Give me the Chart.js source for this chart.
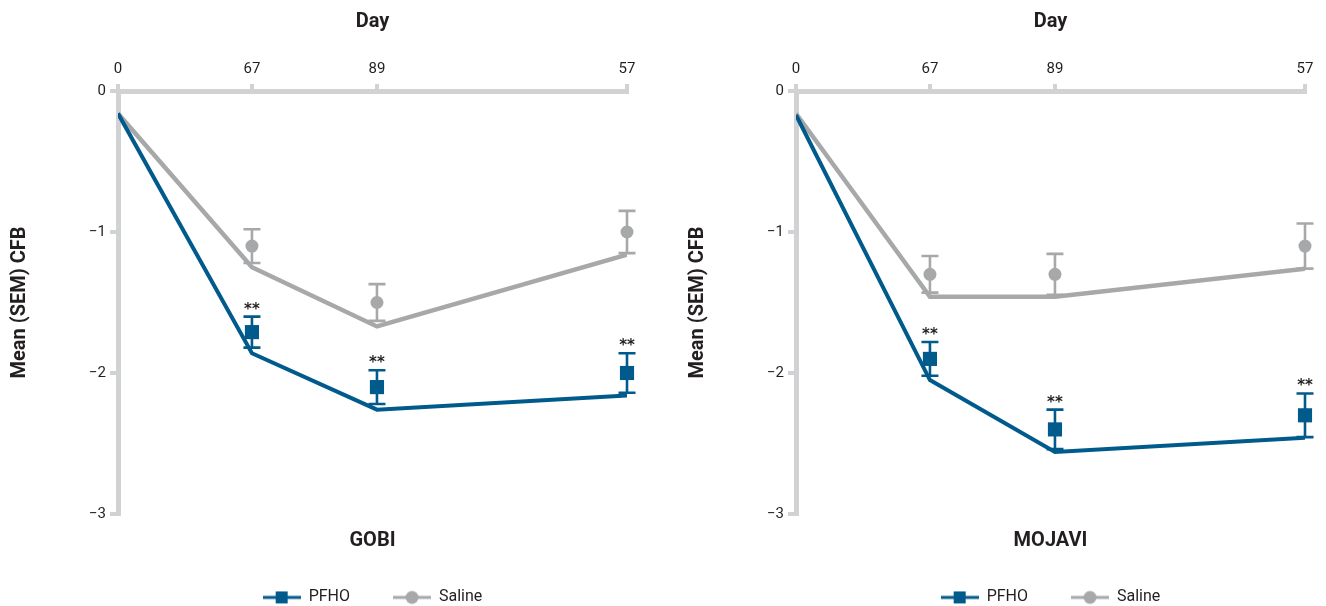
<!DOCTYPE html>
<html>
<head>
<meta charset="utf-8">
<script src="https://cdn.jsdelivr.net/npm/chart.js@4.4.0/dist/chart.umd.min.js"></script>
<style>
    html, body { margin: 0; padding: 0; background: #fff; }
    .panel { position: absolute; top: 0; width: 648px; height: 606px; }
    #gobiPanel { left: 0; }
    #mojaviPanel { left: 678px; }
</style>
</head>
<body>
<div class="panel" id="gobiPanel"><canvas id="gobiChart"></canvas></div>
<div class="panel" id="mojaviPanel"><canvas id="mojaviChart"></canvas></div>
<script>
// x positions of the visits and the labels printed on the Day axis
const dayPos = [0, 15, 29, 57];
const dayLabels = ['0', '67', '89', '57'];
const visitPos = [15, 29, 57];
const yTicks = [0, -1, -2, -3];

// GOBI
const gobiPfhoFit = [-0.16, -1.86, -2.26, -2.16];
const gobiSalineFit = [-0.16, -1.25, -1.67, -1.16];
const gobiPfhoMean = [-1.71, -2.10, -2.00];
const gobiPfhoSem = [0.11, 0.12, 0.14];
const gobiSalineMean = [-1.10, -1.50, -1.00];
const gobiSalineSem = [0.12, 0.13, 0.15];

// MOJAVI
const mojaviPfhoFit = [-0.17, -2.05, -2.56, -2.46];
const mojaviSalineFit = [-0.16, -1.46, -1.46, -1.26];
const mojaviPfhoMean = [-1.90, -2.40, -2.30];
const mojaviPfhoSem = [0.12, 0.14, 0.155];
const mojaviSalineMean = [-1.30, -1.30, -1.10];
const mojaviSalineSem = [0.13, 0.145, 0.16];

const BLUE = '#005a8c';
const GREY = '#a7a8aa';
const AXIS = '#d1d2d4';
const TEXT = '#231f20';
const FONT = 'Roboto';

function legendIcon(color, shape) {
    const c = document.createElement('canvas');
    c.width = 38;
    c.height = 16;
    const g = c.getContext('2d');
    g.strokeStyle = color;
    g.lineWidth = 3;
    g.beginPath();
    g.moveTo(0, 8);
    g.lineTo(38, 8);
    g.stroke();
    g.fillStyle = color;
    if (shape === 'rect') {
        g.fillRect(13, 2, 12, 12);
    } else {
        g.beginPath();
        g.arc(19, 8, 6.5, 0, Math.PI * 2);
        g.fill();
    }
    return c;
}

function toPoints(xs, ys) {
    return xs.map((x, i) => ({ x: x, y: ys[i] }));
}

function makePanel(canvasId, name, pfhoFit, salineFit, pfhoMean, pfhoSem, salineMean, salineSem) {
    const groups = [
        { mean: salineMean, sem: salineSem, color: GREY, stars: false },
        { mean: pfhoMean, sem: pfhoSem, color: BLUE, stars: true }
    ];

    // error bars behind the markers, ** above the PFHO bars
    const errorBars = {
        id: 'errorBars',
        beforeDatasetsDraw(chart) {
            const ctx = chart.ctx;
            const xs = chart.scales.x, ys = chart.scales.y;
            groups.forEach(grp => {
                ctx.save();
                ctx.strokeStyle = grp.color;
                ctx.lineWidth = 2.6;
                grp.mean.forEach((m, i) => {
                    const px = xs.getPixelForValue(visitPos[i]);
                    const top = ys.getPixelForValue(m + grp.sem[i]);
                    const bot = ys.getPixelForValue(m - grp.sem[i]);
                    ctx.beginPath();
                    ctx.moveTo(px, top); ctx.lineTo(px, bot);
                    ctx.moveTo(px - 8.5, top); ctx.lineTo(px + 8.5, top);
                    ctx.moveTo(px - 8.5, bot); ctx.lineTo(px + 8.5, bot);
                    ctx.stroke();
                });
                ctx.restore();
            });
        },
        afterDatasetsDraw(chart) {
            const ctx = chart.ctx;
            const xs = chart.scales.x, ys = chart.scales.y;
            groups.filter(g => g.stars).forEach(grp => {
                ctx.save();
                ctx.fillStyle = TEXT;
                ctx.font = 'bold 15px "DejaVu Sans"';
                ctx.textAlign = 'center';
                ctx.textBaseline = 'alphabetic';
                grp.mean.forEach((m, i) => {
                    const px = xs.getPixelForValue(visitPos[i]);
                    const top = ys.getPixelForValue(m + grp.sem[i]);
                    ctx.fillText('**', px, top - 3);
                });
                ctx.restore();
            });
        }
    };

    new Chart(document.getElementById(canvasId), {
        type: 'line',
        data: {
            datasets: [
                {
                    label: 'PFHO',
                    data: toPoints(dayPos, pfhoFit),
                    borderColor: BLUE,
                    borderWidth: 4,
                    pointRadius: 0,
                    pointHitRadius: 0,
                    pointStyle: legendIcon(BLUE, 'rect'),
                    order: 2
                },
                {
                    label: 'Saline',
                    data: toPoints(dayPos, salineFit),
                    borderColor: GREY,
                    borderWidth: 4.5,
                    pointRadius: 0,
                    pointHitRadius: 0,
                    pointStyle: legendIcon(GREY, 'circle'),
                    order: 3
                },
                {
                    label: 'PFHO mean',
                    data: toPoints(visitPos, pfhoMean),
                    showLine: false,
                    pointStyle: 'rect',
                    pointRadius: 10,
                    backgroundColor: BLUE,
                    borderWidth: 0,
                    clip: false,
                    order: 0
                },
                {
                    label: 'Saline mean',
                    data: toPoints(visitPos, salineMean),
                    showLine: false,
                    pointStyle: 'circle',
                    pointRadius: 6.5,
                    backgroundColor: GREY,
                    borderWidth: 0,
                    clip: false,
                    order: 1
                }
            ]
        },
        options: {
            responsive: true,
            maintainAspectRatio: false,
            animation: false,
            layout: { padding: { left: 0, right: 21, top: 0, bottom: 0 } },
            scales: {
                x: {
                    type: 'linear',
                    position: 'top',
                    min: 0,
                    max: 57,
                    afterBuildTicks: s => { s.ticks = dayPos.map(v => ({ value: v })); },
                    afterFit: s => { s.height = 91; },
                    ticks: {
                        callback: (v, i) => dayLabels[i],
                        color: TEXT,
                        font: { family: FONT, size: 15 },
                        padding: 6,
                        maxRotation: 0,
                        autoSkip: false
                    },
                    grid: { drawOnChartArea: false, color: AXIS, lineWidth: 4, tickLength: 7 },
                    border: { color: AXIS, width: 5 },
                    title: {
                        display: true,
                        text: 'Day',
                        color: TEXT,
                        font: { family: FONT, size: 20, weight: 'bold' },
                        padding: { top: 10, bottom: 0 }
                    }
                },
                y: {
                    min: -3,
                    max: 0,
                    afterBuildTicks: s => { s.ticks = yTicks.map(v => ({ value: v })); },
                    afterFit: s => { s.width = 118; },
                    ticks: {
                        callback: v => String(v).replace('-', '\u2212'),
                        color: TEXT,
                        font: { family: FONT, size: 15 },
                        padding: 4
                    },
                    grid: { drawOnChartArea: false, color: AXIS, lineWidth: 4, tickLength: 8 },
                    border: { color: AXIS, width: 5 },
                    title: {
                        display: true,
                        text: 'Mean (SEM) CFB',
                        color: TEXT,
                        font: { family: FONT, size: 20, weight: 'bold' },
                        padding: { top: 8, bottom: 0 }
                    }
                }
            },
            plugins: {
                title: {
                    display: true,
                    text: name,
                    position: 'bottom',
                    fullSize: false,
                    weight: 100,
                    color: TEXT,
                    font: { family: FONT, size: 20, weight: 'bold' },
                    padding: { top: 15, bottom: -6.6 }
                },
                legend: {
                    position: 'bottom',
                    fullSize: false,
                    maxHeight: 59.6,
                    labels: {
                        usePointStyle: true,
                        pointStyleWidth: 38,
                        padding: 43,
                        color: TEXT,
                        font: { family: FONT, size: 16 },
                        filter: item => item.datasetIndex < 2
                    }
                },
                tooltip: { enabled: false }
            }
        },
        plugins: [errorBars]
    });
}

makePanel('gobiChart', 'GOBI', gobiPfhoFit, gobiSalineFit, gobiPfhoMean, gobiPfhoSem, gobiSalineMean, gobiSalineSem);
makePanel('mojaviChart', 'MOJAVI', mojaviPfhoFit, mojaviSalineFit, mojaviPfhoMean, mojaviPfhoSem, mojaviSalineMean, mojaviSalineSem);
</script>
</body>
</html>
